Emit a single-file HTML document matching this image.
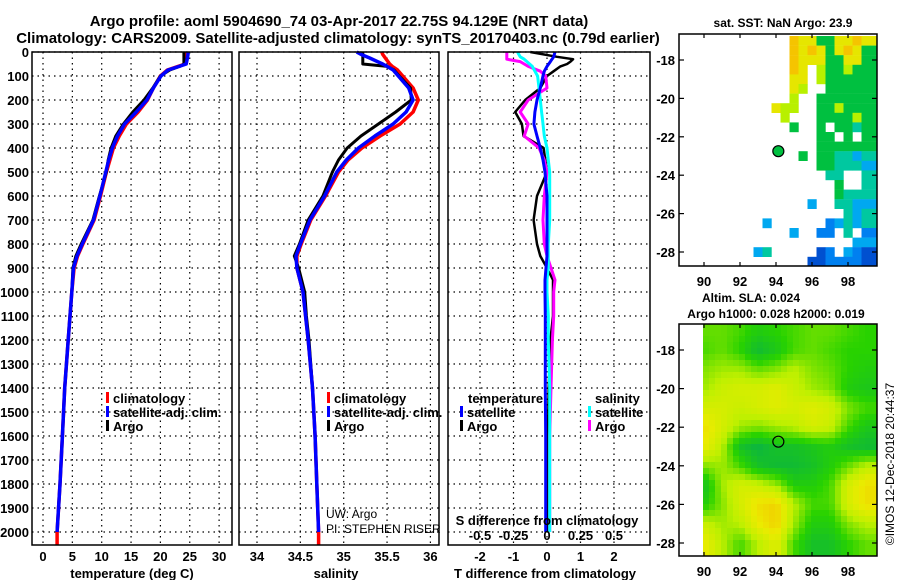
<!DOCTYPE html>
<html><head><meta charset="utf-8">
<style>
html,body{margin:0;padding:0;background:#fff;}
svg{display:block;font-family:"Liberation Sans",Arial,sans-serif;font-weight:bold;}
</style></head>
<body>
<svg id="chart" width="900" height="580" viewBox="0 0 900 580" xmlns="http://www.w3.org/2000/svg">
<text x="339" y="26" font-size="15" text-anchor="middle">Argo profile: aoml 5904690_74 03-Apr-2017 22.75S 94.129E (NRT data)</text>
<text x="338" y="43" font-size="15" text-anchor="middle">Climatology: CARS2009. Satellite-adjusted climatology: synTS_20170403.nc (0.79d earlier)</text>
<g id="g"></g>
</svg>
<script>
// ---- profile data ----
const depths = [0,10,25,50,60,75,100,150,200,250,300,350,400,450,500,600,700,800,850,900,1000,1100,1200,1400,1600,1800,2000];
const tempClim = [24.5,24.5,24.4,24.2,23.0,21.2,20.0,18.8,17.8,16.2,14.2,13.0,12.0,11.4,10.8,9.8,8.7,6.8,5.9,5.3,4.9,4.6,4.3,3.7,3.3,2.9,2.4];
const tempSat  = [24.7,24.7,24.6,24.4,23.2,21.3,20.1,18.8,17.7,15.9,13.9,12.7,11.8,11.2,10.7,9.7,8.6,6.7,5.8,5.2,4.9,4.6,4.3,3.7,3.3,2.9,2.4];
const tempArgo = [24.0,24.0,24.0,24.0,23.3,21.6,20.0,18.7,17.2,15.3,13.7,12.4,11.6,11.1,10.8,9.6,8.5,6.5,5.6,5.1,4.9,4.6,4.3,3.7,3.3,2.9,2.4];
const salClim = [35.44,35.45,35.48,35.53,35.56,35.62,35.68,35.80,35.86,35.80,35.65,35.42,35.21,35.05,34.94,34.79,34.62,34.51,34.46,34.46,34.53,34.56,34.59,34.64,34.67,34.69,34.71];
const salSat  = [35.15,35.20,35.30,35.45,35.50,35.57,35.63,35.75,35.80,35.72,35.57,35.36,35.17,35.03,34.92,34.78,34.61,34.50,34.45,34.46,34.53,34.56,34.59,34.64,34.67,34.69,34.71];
const salArgo = [35.22,35.22,35.22,35.22,35.50,35.58,35.64,35.77,35.78,35.60,35.40,35.20,35.04,34.94,34.87,34.76,34.59,34.49,34.43,34.48,34.55,34.57,34.60,34.64,34.67,34.69,34.71];
// ---- difference data ----
const diffDepths = [0,20,30,40,50,60,80,100,150,200,250,300,350,400,450,500,600,700,800,850,900,950,1000,1100,1200,1400,1600,1800,2000];
const tDiffSat  = [0.24,0.2,0.15,0.1,0.05,0,-0.08,-0.12,-0.2,-0.3,-0.36,-0.39,-0.3,-0.2,-0.12,-0.06,0,0,0,0,-0.03,-0.06,-0.06,-0.05,-0.05,-0.05,-0.04,-0.04,-0.04];
const tDiffArgo = [-0.5,0.3,0.78,0.7,0.6,0.4,0.2,0,-0.2,-0.65,-0.95,-0.75,-0.7,-0.1,-0.05,0,-0.3,-0.4,-0.3,-0.2,0,0.18,0.18,0.18,0.1,0.05,0.03,0.03,0.03];
const sDiffSat  = [-0.22,-0.2,-0.17,-0.15,-0.13,-0.11,-0.09,-0.07,-0.06,-0.05,-0.04,-0.03,-0.02,0,0.01,0.02,0.02,0.02,0.01,0.01,0.01,0,0,0.01,0.01,0.02,0.02,0.02,0.02];
const sDiffArgo = [-0.3,-0.3,-0.3,-0.2,-0.17,-0.14,-0.05,-0.01,0,-0.14,-0.2,-0.14,-0.17,-0.06,-0.02,0,-0.02,-0.03,-0.02,0,0.03,0.06,0.05,0.05,0.04,0.03,0.02,0.02,0.02];
// ---- tick labels ----
const depthTicks = [0,100,200,300,400,500,600,700,800,900,1000,1100,1200,1300,1400,1500,1600,1700,1800,1900,2000];
const tempTicks = [0,5,10,15,20,25,30];
const salTicks = [34,34.5,35,35.5,36];
const tDiffTicks = [-2,-1,0,1,2];
const sDiffTicks = [-0.5,-0.25,0,0.25,0.5];
const latTicks = [-18,-20,-22,-24,-26,-28];
const lonTicks = [90,92,94,96,98];
// ---- SST map cells (0.5 deg), lon from 93.0, lat rows from -17 ----
const sstLon0 = 93.0;
const sstLat0 = -17;
const sstRows = [
"....oyyggyyoyy","....oyoygyoygg","....oyyyggyygg","....oy.lgglggg","....yy.lgggggg","....yl..gggggg",
"....l..ggggggg","..yll..gglgggg","...l...gggglgg","....g..g.ggtgg",".......gg.g.gg",".......ggggggg",
".....g.ggttctt",".......ggtttcc","........tt..tt",".........g..tt",".........gttttt","......c..ttccc",
"..........tctt",".c......bctctt","....c..bb.t.bb","...........ccc","ct.....db.cbdd","......ddbbbbdd"];
const sstColors = {o:"#f5c400",y:"#e6e600",l:"#b8f000",g:"#00c040",t:"#00c8a0",c:"#00a8f0",b:"#0080f0",d:"#0050d0"};
// ---- SLA grid (1 deg), lon 90..99, lat -17..-28 ----
const slaLat = [-17,-18,-19,-20,-21,-22,-23,-24,-25,-26,-27,-28];
const slaLon = [90,91,92,93,94,95,96,97,98,99];
const slaGrid = [
[0.45,0.45,0.4,0.3,0.35,0.4,0.45,0.45,0.4,0.35],
[0.4,0.45,0.35,0.15,0.25,0.4,0.45,0.4,0.35,0.35],
[0.5,0.55,0.55,0.45,0.5,0.6,0.5,0.45,0.35,0.3],
[0.55,0.65,0.7,0.7,0.75,0.65,0.55,0.5,0.3,0.25],
[0.7,0.7,0.65,0.7,0.75,0.7,0.75,0.7,0.5,0.4],
[0.85,0.7,0.55,0.5,0.55,0.6,0.7,0.65,0.4,0.25],
[0.8,0.6,0.2,0.1,0.2,0.2,0.25,0.3,0.2,0.15],
[0.5,0.55,0.4,0.2,0.15,0.15,0.2,0.3,0.45,0.6],
[0.2,0.55,0.7,0.65,0.55,0.3,0.3,0.4,0.7,0.85],
[0.3,0.5,0.7,0.85,0.9,0.6,0.4,0.4,0.7,0.85],
[0.65,0.55,0.6,0.8,0.9,0.55,0.3,0.3,0.5,0.6],
[0.8,0.6,0.4,0.6,0.75,0.4,0.2,0.2,0.35,0.45]];

const NS="http://www.w3.org/2000/svg";
const G=document.getElementById('g');
function el(tag,attrs,parent){const e=document.createElementNS(NS,tag);for(const k in attrs)e.setAttribute(k,attrs[k]);(parent||G).appendChild(e);return e;}
function txt(x,y,s,size,anchor,parent,weight){const t=el('text',{x:x,y:y,'font-size':size,'text-anchor':anchor||'middle'},parent);if(weight)t.setAttribute('font-weight',weight);t.textContent=s;return t;}

const TOP=52,BOT=545;
const yD=d=>TOP+d*0.24;

function panel(name,x0,x1,xs,ticks){
  const g=el('g',{});
  
  
  depthTicks.forEach(d=>{el('line',{x1:x0,x2:x1,y1:yD(d),y2:yD(d),stroke:'#000','stroke-width':1.2,'stroke-dasharray':'1.5,4'},g);});
  ticks.forEach(v=>{el('line',{x1:xs(v),x2:xs(v),y1:TOP,y2:BOT,stroke:'#000','stroke-width':1.2,'stroke-dasharray':'1.5,4'},g);});
  return g;
}
function frame(g,x0,x1){el('rect',{x:x0,y:TOP,width:x1-x0,height:BOT-TOP,fill:'none',stroke:'#000','stroke-width':1.5},g);}
function line(g,xs,vals,ds,color,w,name){
  const pts=vals.map((v,i)=>xs(v).toFixed(1)+','+yD(ds[i]).toFixed(1)).join(' ');
  const p=el('polyline',{points:pts,fill:'none',stroke:color,'stroke-width':w,'stroke-linejoin':'round'},g);
  
  
  return p;
}

// Panel 1 temperature
const xT=v=>43+v*5.87;
let g1=panel('temperature-panel',32,232,xT,tempTicks);
const dClim=depths.concat([2054]);
line(g1,xT,tempClim.concat([2.4]),dClim,'#ff0000',3.5,'temp-climatology-line');
line(g1,xT,tempArgo,depths,'#000',3,'temp-argo-line');
line(g1,xT,tempSat,depths,'#0000ff',3.5,'temp-satellite-line');
frame(g1,32,232);
depthTicks.forEach(d=>{const t=txt(29,yD(d)+5,String(d),13,'end',g1);});
tempTicks.forEach(v=>{const t=txt(xT(v),561,String(v),13,'middle',g1);});
let t1=txt(132,578,'temperature (deg C)',13,'middle',g1);


// Panel 2 salinity
const xS=v=>257+(v-34)*86.7;
let g2=panel('salinity-panel',239,439,xS,salTicks);
line(g2,xS,salClim.concat([34.71]),dClim,'#ff0000',3.5,'sal-climatology-line');
line(g2,xS,salArgo,depths,'#000',3,'sal-argo-line');
line(g2,xS,salSat,depths,'#0000ff',3.5,'sal-satellite-line');
frame(g2,239,439);
salTicks.forEach(v=>{const t=txt(xS(v),561,String(v),13,'middle',g2);});
let t2=txt(336,578,'salinity',13,'middle',g2);

let u1=txt(326,518,'UW: Argo',12,'start',g2,'normal');
let u2=txt(326,533,'PI: STEPHEN RISER',12,'start',g2,'normal');

function legend(g,x,items,name){
  items.forEach((it,i)=>{
    const y=398+i*14;
    const m=el('rect',{x:x,y:y-6,width:3,height:11,fill:it[1]},g);
    
    const t=txt(x+7,y+5,it[0],13,'start',g);
    
  });
}
legend(g1,106,[['climatology','#ff0000'],['satellite-adj. clim.','#0000ff'],['Argo','#000']],'temp-legend');
legend(g2,327,[['climatology','#ff0000'],['satellite-adj. clim.','#0000ff'],['Argo','#000']],'sal-legend');

// Panel 3 differences
const xTD=v=>547+v*33.5;
const xSD=v=>547+v*134;
let g3=panel('difference-panel',448,650,xTD,tDiffTicks);
line(g3,xTD,tDiffArgo,diffDepths,'#000',2.5,'tdiff-argo-line');
line(g3,xSD,sDiffArgo,diffDepths,'#ff00ff',3,'sdiff-argo-line');
line(g3,xSD,sDiffSat,diffDepths,'#00ffff',3,'sdiff-satellite-line');
line(g3,xTD,tDiffSat,diffDepths,'#0000ff',3,'tdiff-satellite-line');
frame(g3,448,650);
tDiffTicks.forEach(v=>{const t=txt(xTD(v),561,String(v),13,'middle',g3);});
sDiffTicks.forEach(v=>{const t=txt(xSD(v),540,String(v),13,'middle',g3);});
let t3=txt(545,578,'T difference from climatology',13,'middle',g3);
let t4=txt(547,525,'S difference from climatology',13,'middle',g3);
let lt=txt(468,403,'temperature',13,'start',g3);
let ls=txt(595,403,'salinity',13,'start',g3);
[['satellite','#0000ff',460],['Argo','#000',460]].forEach((it,i)=>{const y=412+i*14;
  const m=el('rect',{x:it[2],y:y-6,width:3,height:11,fill:it[1]},g3);
  const t=txt(it[2]+7,y+5,it[0],13,'start',g3);});
[['satellite','#00ffff',588],['Argo','#ff00ff',588]].forEach((it,i)=>{const y=412+i*14;
  const m=el('rect',{x:it[2],y:y-6,width:3,height:11,fill:it[1]},g3);
  const t=txt(it[2]+7,y+5,it[0],13,'start',g3);});

function mapAxes(g,x0,x1,y0,y1,lx,ly,lonLabelY){
  el('rect',{x:x0,y:y0,width:x1-x0,height:y1-y0,fill:'none',stroke:'#000','stroke-width':1.5},g);
  latTicks.forEach(la=>{const y=ly(la);
    el('line',{x1:x0,x2:x0+5,y1:y,y2:y,stroke:'#000','stroke-width':1.2},g);
    el('line',{x1:x1-5,x2:x1,y1:y,y2:y,stroke:'#000','stroke-width':1.2},g);
    const t=txt(x0-4,y+5,String(la),13,'end',g);});
  lonTicks.forEach(lo=>{const x=lx(lo);
    el('line',{x1:x,x2:x,y1:y0,y2:y0+4,stroke:'#000','stroke-width':1.2},g);
    el('line',{x1:x,x2:x,y1:y1-4,y2:y1,stroke:'#000','stroke-width':1.2},g);
    const t=txt(x,lonLabelY,String(lo),13,'middle',g);});
}
// SST map
const m1=el('g',{});

const lx1=lo=>704+(lo-90)*18, ly1=la=>60+(-18-la)*19.2;
const cl=el('clipPath',{id:'c1'},m1);el('rect',{x:679,y:34,width:198,height:232},cl);
const cg=el('g',{'clip-path':'url(#c1)'},m1);
sstRows.forEach((row,r)=>{for(let c=0;c<row.length;c++){const ch=row[c];if(ch==='.')continue;
  const lo=sstLon0+c*0.5, la=sstLat0-r*0.5;
  const cell=el('rect',{x:lx1(lo-0.25),y:ly1(la+0.25),width:9.2,height:9.8,fill:sstColors[ch]},cg);
  }});
mapAxes(m1,679,877,34,266,lx1,ly1,286);
const dot=el('circle',{cx:lx1(94.13),cy:ly1(-22.75),r:5.5,fill:'#00c040',stroke:'#000','stroke-width':1.2},m1);

let mt=txt(783,27,'sat. SST: NaN Argo: 23.9',12,'middle',m1);
let st1=txt(751,302,'Altim. SLA: 0.024',12,'middle',m1);
let st2=txt(776,318,'Argo h1000: 0.028 h2000: 0.019',12,'middle',m1);

// SLA map
const m2=el('g',{});

const lx2=lo=>704+(lo-90)*18, ly2=la=>350+(-18-la)*19.3;
function slaAt(lo,la){
  let fi=(-17-la), fj=(lo-90);
  fi=Math.max(0,Math.min(slaLat.length-1.001,fi)); fj=Math.max(0,Math.min(slaLon.length-1.001,fj));
  const i=Math.floor(fi), j=Math.floor(fj), a=fi-i, b=fj-j;
  return slaGrid[i][j]*(1-a)*(1-b)+slaGrid[i+1][j]*a*(1-b)+slaGrid[i][j+1]*(1-a)*b+slaGrid[i+1][j+1]*a*b;
}
function slaColor(v){
  const stops=[[0,[0,170,90]],[0.35,[40,210,0]],[0.6,[190,240,0]],[0.8,[235,235,0]],[1,[245,185,0]]];
  for(let k=1;k<stops.length;k++){if(v<=stops[k][0]){const t=(v-stops[k-1][0])/(stops[k][0]-stops[k-1][0]);
    const c=stops[k-1][1].map((x,q)=>Math.round(x+(stops[k][1][q]-x)*t));return 'rgb('+c.join(',')+')';}}
  return 'rgb(245,185,0)';
}
const step=6;
for(let x=703;x<877;x+=step){for(let y=324;y<556;y+=step){
  const lo=90+(x+step/2-704)/18, la=-18-(y+step/2-350)/19.3;
  const cell=el('rect',{x:x,y:y,width:Math.min(step,877-x),height:Math.min(step,556-y),fill:slaColor(slaAt(lo,la))},m2);
  }}
mapAxes(m2,679,877,324,556,lx2,ly2,576);
const dot2=el('circle',{cx:lx2(94.13),cy:ly2(-22.75),r:5.5,fill:'none',stroke:'#000','stroke-width':1.2},m2);

const cr=txt(0,0,'©IMOS 12-Dec-2018 20:44:37',12,'middle',m2,'normal');
cr.setAttribute('transform','translate(894,464) rotate(-90)');

</script>
</body></html>
